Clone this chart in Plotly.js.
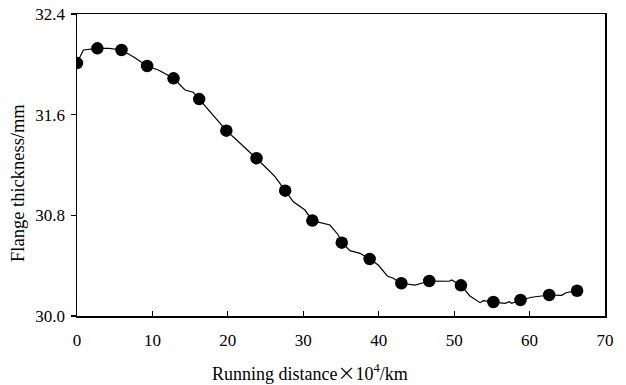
<!DOCTYPE html>
<html>
<head>
<meta charset="utf-8">
<script src="https://cdn.plot.ly/plotly-3.0.1.min.js"></script>
<style>html,body{margin:0;padding:0;background:#fff;}#chart{width:626px;height:385px;}</style>
</head>
<body>
<div id="chart"></div>
<script>
// Measured points (markers)
const markerX = [0, 2.7, 5.9, 9.3, 12.8, 16.2, 19.8, 23.8, 27.6, 31.2, 35.1, 38.8, 43.0, 46.7, 50.9, 55.2, 58.8, 62.6, 66.3];
const markerY = [32.01, 32.127, 32.114, 31.987, 31.889, 31.724, 31.473, 31.254, 30.996, 30.758, 30.583, 30.453, 30.26, 30.278, 30.244, 30.111, 30.127, 30.167, 30.201];

const lineX = [0, 0.84, 2.7, 4.28, 5.9, 7.46, 9.3, 10.78, 12.8, 14.32, 15.42, 16.2, 17.63, 19.8, 21.17, 23.8, 24.7, 26.25, 27.6, 28.68, 30.23, 31.2, 33.54, 34.64, 35.1, 36.19, 37.52, 38.8, 39.94, 41.14, 41.93, 43.0, 44.81, 46.7, 49.36, 49.67, 50.9, 52.1, 53.43, 53.87, 55.2, 56.74, 57.31, 57.63, 58.8, 60.28, 62.6, 64.26, 64.83, 66.3];
const lineY = [32.01, 32.114, 32.127, 32.127, 32.114, 32.06, 31.987, 31.955, 31.889, 31.796, 31.778, 31.724, 31.624, 31.473, 31.399, 31.254, 31.2, 31.107, 30.996, 30.908, 30.842, 30.758, 30.723, 30.644, 30.583, 30.519, 30.498, 30.453, 30.405, 30.318, 30.3, 30.26, 30.246, 30.278, 30.276, 30.286, 30.244, 30.159, 30.106, 30.122, 30.111, 30.101, 30.114, 30.101, 30.127, 30.149, 30.167, 30.164, 30.185, 30.201];

const xTicks = [0, 10, 20, 30, 40, 50, 60, 70];
const yTicks = [30.0, 30.8, 31.6, 32.4];
const yTickLabels = ['30.0', '30.8', '31.6', '32.4'];

const font = 'Liberation Serif, Times New Roman, serif';

const traces = [
  {x: lineX, y: lineY, type: 'scatter', mode: 'lines',
   line: {color: '#000', width: 1.2}, hoverinfo: 'skip', cliponaxis: true},
  {x: markerX, y: markerY, type: 'scatter', mode: 'markers',
   marker: {color: '#000', size: 12.5, symbol: 'circle'}, cliponaxis: true}
];

const layout = {
  width: 626, height: 385,
  margin: {l: 77, r: 21, t: 14, b: 69},
  paper_bgcolor: '#fff', plot_bgcolor: '#fff',
  showlegend: false,
  font: {family: font, size: 16, color: '#000'},
  xaxis: {
    range: [0, 70], tickvals: xTicks, ticktext: xTicks.map(String),
    ticks: 'inside', ticklen: 5, tickwidth: 1.2, tickcolor: '#000',
    showline: true, linecolor: '#000', linewidth: 1.5, mirror: true,
    showgrid: false, zeroline: false, ticklabelstandoff: 8,
    tickfont: {family: font, size: 17, color: '#000'}
  },
  yaxis: {
    range: [30.0, 32.4], tickvals: yTicks, ticktext: yTickLabels,
    ticks: 'outside', ticklen: 5, tickwidth: 1.2, tickcolor: '#000',
    showline: true, linecolor: '#000', linewidth: 1.5, mirror: true,
    showgrid: false, zeroline: false, ticklabelstandoff: 2,
    tickfont: {family: font, size: 17, color: '#000'}
  },
  annotations: [{
    text: 'Running distance<span style="font-family:Noto Sans CJK SC">×</span>10<sup>4</sup>/km',
    xref: 'paper', yref: 'paper', x: 0.441, y: -0.187,
    xanchor: 'center', yanchor: 'middle', showarrow: false,
    font: {family: font, size: 18, color: '#000'}
  }, {
    text: 'Flange thickness/mm',
    xref: 'paper', yref: 'paper', x: -0.112, y: 0.44, textangle: -90,
    xanchor: 'center', yanchor: 'middle', showarrow: false,
    font: {family: font, size: 18.5, color: '#000'}
  }]
};

Plotly.newPlot('chart', traces, layout, {displayModeBar: false, staticPlot: true});
</script>
</body>
</html>
